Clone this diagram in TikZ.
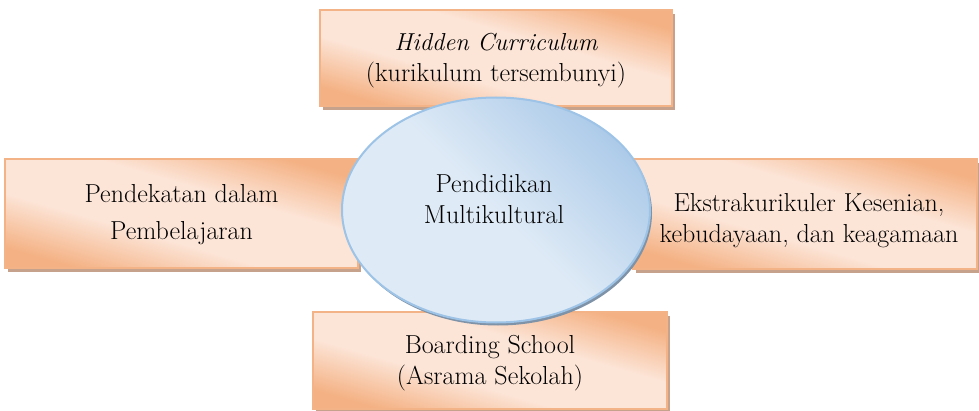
\documentclass[tikz,border=0pt]{standalone}
\usetikzlibrary{shadows,shapes.geometric}
\definecolor{boxdark}{HTML}{F4B183}
\definecolor{boxlight}{HTML}{FCE4D6}
\definecolor{boxline}{HTML}{F4B386}
\definecolor{boxshadow}{HTML}{C6A28C}
\definecolor{elllight}{HTML}{DEEAF6}
\definecolor{elldark}{HTML}{ADCBE9}
\definecolor{ellline}{HTML}{9DC3E6}
\definecolor{ellshadow}{HTML}{7F93A8}
\pgfdeclarehorizontalshading{peachshade}{100bp}{color(0bp)=(boxdark); color(25bp)=(boxdark); color(41bp)=(boxlight); color(59bp)=(boxlight); color(75bp)=(boxdark); color(100bp)=(boxdark)}
\pgfdeclarehorizontalshading{blueshade}{100bp}{color(0bp)=(elllight); color(25bp)=(elllight); color(50bp)=(elllight); color(75bp)=(elldark); color(100bp)=(elldark)}
\tikzset{
  txt/.style={font=\fontsize{26}{31}\selectfont, align=center, text=black, inner sep=0pt},
  peachbox/.style={draw=boxline, line width=1.5pt, rectangle, inner sep=0pt,
    shading=peachshade, shading angle=74,
    drop shadow={shadow xshift=3pt, shadow yshift=-4pt, fill=boxshadow, opacity=1}},
  blueell/.style={ellipse, draw=ellline, line width=2pt, inner sep=0pt,
    shading=blueshade, shading angle=45,
    drop shadow={shadow xshift=2pt, shadow yshift=-3pt, fill=ellshadow, opacity=1}}
}
\begin{document}
\begin{tikzpicture}[x=1pt,y=1pt]
\useasboundingbox (0,0) rectangle (979,410);
\node[peachbox, minimum width=352pt, minimum height=96pt] (hc) at (496,352) {};
\node[peachbox, minimum width=353pt, minimum height=109pt] (pd) at (181.5,196.5) {};
\node[peachbox, minimum width=344pt, minimum height=110pt] (ek) at (805,196) {};
\node[peachbox, minimum width=354pt, minimum height=97pt] (bs) at (490,49.5) {};
\node[blueell, minimum width=308pt, minimum height=225pt] (pm) at (496,200) {};
\node[txt] (hct) at ([yshift=-3pt]hc.center) {{\fontsize{24.5}{31}\selectfont\itshape Hidden Curriculum}\\(kurikulum tersembunyi)};
\node[txt] (pdt) at ([yshift=-1pt]pd.center) {Pendekatan dalam\\[6pt]Pembelajaran};
\node[txt] (ekt) at ([xshift=4pt,yshift=-7pt]ek.center) {Ekstrakurikuler Kesenian,\\kebudayaan, dan keagamaan};
\node[txt] (bst) at ([yshift=-3pt]bs.center) {Boarding School\\(Asrama Sekolah)};
\node[txt] (pmt) at ([xshift=-2pt,yshift=11pt]pm.center) {Pendidikan\\Multikultural};
\end{tikzpicture}
\end{document}
